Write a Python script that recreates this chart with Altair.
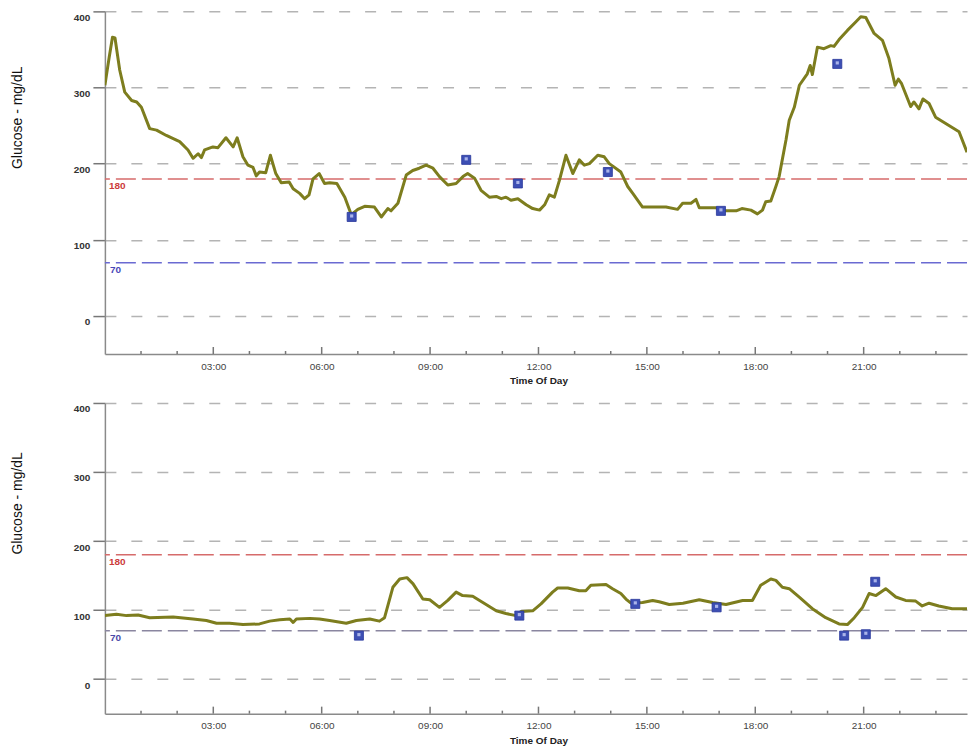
import altair as alt
import pandas as pd

# Upper day: glucose trace (hours after midnight, mg/dL)
top_hours = [0.00, 0.12, 0.21, 0.28, 0.41, 0.55, 0.74, 0.88, 1.01, 1.24, 1.43, 1.70, 2.07, 2.30,
             2.44, 2.58, 2.67, 2.76, 2.99, 3.13, 3.35, 3.55, 3.66, 3.82, 3.96, 4.10, 4.19, 4.28,
             4.45, 4.58, 4.73, 4.88, 5.10, 5.21, 5.39, 5.53, 5.65, 5.76, 5.93, 6.08, 6.22, 6.42,
             6.64, 6.82, 7.00, 7.19, 7.46, 7.65, 7.83, 7.92, 8.11, 8.34, 8.52, 8.70, 8.89, 9.08,
             9.26, 9.49, 9.72, 9.91, 10.04, 10.23, 10.41, 10.64, 10.83, 10.97, 11.10, 11.24,
             11.43, 11.66, 11.84, 12.03, 12.17, 12.30, 12.44, 12.58, 12.76, 12.95, 13.13, 13.27,
             13.41, 13.64, 13.82, 13.96, 14.28, 14.47, 14.61, 14.88, 15.07, 15.53, 15.85, 15.99,
             16.22, 16.36, 16.45, 16.91, 17.19, 17.47, 17.63, 17.88, 18.06, 18.20, 18.29, 18.43,
             18.57, 18.66, 18.85, 18.94, 19.08, 19.22, 19.44, 19.52, 19.58, 19.72, 19.90, 20.09,
             20.18, 20.32, 20.55, 20.78, 20.92, 21.06, 21.29, 21.52, 21.70, 21.87, 21.96, 22.05,
             22.30, 22.39, 22.53, 22.64, 22.81, 22.99, 23.36, 23.64, 23.86]
top_values = [303, 340, 366, 365, 323, 294, 283, 281, 274, 246, 244, 237, 229, 218,
              207, 213, 208, 218, 222, 221, 234, 222, 234, 209, 198, 195, 184, 189,
              188, 211, 187, 175, 176, 167, 161, 154, 159, 180, 187, 174, 175, 174,
              156, 133, 140, 144, 143, 130, 141, 138, 148, 185, 191, 194, 198, 194,
              183, 172, 174, 183, 187, 181, 165, 156, 157, 154, 156, 152,
              154, 146, 141, 139, 146, 159, 156, 178, 211, 187, 205, 198,
              200, 211, 209, 200, 189, 170, 161, 143, 143, 143, 140, 148,
              148, 153, 142, 142, 138, 138, 141, 139, 134, 139, 150, 151,
              170, 183, 231, 257, 274, 303, 318, 329, 317, 353, 351, 355,
              354, 363, 375, 386, 393, 392, 371, 362, 338, 303, 311, 305,
              275, 281, 272, 285, 279, 261, 250, 242, 215]

# Upper day: meter readings
top_meter_hours = [6.83, 10.00, 11.43, 13.92, 17.05, 20.27]
top_meter_values = [130, 205, 174, 189, 138, 331]

# Lower day: glucose trace
bottom_hours = [0.00, 0.32, 0.60, 0.92, 1.24, 1.89, 2.44, 2.81, 3.09, 3.45, 3.82, 4.28, 4.56,
                4.84, 5.12, 5.21, 5.30, 5.67, 5.94, 6.22, 6.68, 6.96, 7.33, 7.60, 7.74, 7.97,
                8.16, 8.36, 8.53, 8.80, 8.99, 9.26, 9.49, 9.72, 9.90, 10.18, 10.46, 10.83,
                11.10, 11.38, 11.52, 11.84, 12.07, 12.39, 12.53, 12.81, 13.13, 13.31, 13.45,
                13.87, 14.05, 14.28, 14.42, 14.56, 14.88, 15.16, 15.34, 15.62, 16.00, 16.45,
                16.82, 17.19, 17.65, 17.92, 18.15, 18.43, 18.57, 18.75, 18.94, 19.21, 19.58,
                19.95, 20.32, 20.55, 20.74, 20.97, 21.15, 21.34, 21.61, 21.89, 22.16, 22.44,
                22.62, 22.81, 23.08, 23.45, 23.86]
bottom_values = [92, 94, 92, 93, 89, 90, 87, 85, 81, 81, 79, 80, 84,
                 86, 87, 82, 87, 88, 87, 85, 81, 85, 87, 84, 89, 133,
                 145, 147, 138, 116, 115, 104, 114, 126, 121, 120, 111, 99,
                 95, 92, 98, 99, 109, 126, 132, 132, 128, 128, 136,
                 137, 131, 124, 116, 110, 111, 114, 112, 108, 110, 115,
                 111, 108, 114, 114, 136, 145, 143, 133, 131, 119, 102,
                 89, 80, 79, 89, 104, 124, 121, 131, 119, 114, 113,
                 106, 110, 106, 102, 102]

# Lower day: meter readings
bottom_meter_hours = [7.03, 11.47, 14.68, 16.93, 20.46, 21.06, 21.32]
bottom_meter_values = [63, 92, 109, 104, 63, 65, 141]

y_ticks = [0, 100, 200, 300, 400]
x_label_hours = [3, 6, 9, 12, 15, 18, 21]
minor_hours = [1, 2, 4, 5, 7, 8, 10, 11, 13, 14, 16, 17, 19, 20, 22, 23]
high_limit = 180
low_limit = 70

FONT = "Liberation Sans"
WIDTH = 863
X_DOMAIN = [0, 23.86]
Y_DOMAIN = [-50, 400]
TRACE_COLOR = "#7d7d1e"
METER_COLOR = "#3d4fb4"


def day_panel(hours, values, m_hours, m_values, height, title_y, low_color, low_text_color):
    trace = pd.DataFrame({"hour": hours, "glucose": values})
    meters = pd.DataFrame({"hour": m_hours, "glucose": m_values})
    limits = pd.DataFrame({"level": [high_limit, low_limit],
                           "label": [str(high_limit), str(low_limit)]})
    majors = pd.DataFrame({"hour": x_label_hours})
    minors = pd.DataFrame({"hour": minor_hours})

    x_scale = alt.Scale(domain=X_DOMAIN, nice=False, zero=False)
    y_scale = alt.Scale(domain=Y_DOMAIN, nice=False, zero=False)

    x_axis = alt.Axis(
        values=x_label_hours,
        labelExpr="(datum.value < 10 ? '0' : '') + datum.value + ':00'",
        ticks=False, grid=False,
        domainColor="#8a8a8a", domainWidth=1.5,
        labelFont=FONT, labelFontSize=10, labelColor="#444444", labelPadding=7,
        title="Time Of Day", titleFont=FONT, titleFontSize=10, titleFontWeight="bold",
        titleColor="#222222", titlePadding=5, titleX=434,
    )
    y_axis = alt.Axis(
        values=y_ticks, tickSize=12, tickColor="#777777", tickWidth=1.5,
        domainColor="#8a8a8a", domainWidth=1.5,
        grid=True, gridColor="#b4b4b4", gridDash=[11, 15], gridWidth=1.5,
        labelFont=FONT, labelFontSize=10, labelFontWeight="bold", labelColor="#333333",
        labelBaseline="top", labelPadding=3, labelOffset=1,
        title="Glucose - mg/dL", titleFont=FONT, titleFontSize=14, titleFontWeight="normal",
        titleColor="#111111", titleX=-80, titleY=title_y,
    )

    base_x = alt.X("hour:Q", scale=x_scale, axis=x_axis)

    line = alt.Chart(trace).mark_line(
        color=TRACE_COLOR, strokeWidth=3, strokeJoin="round", clip=True
    ).encode(x=base_x, y=alt.Y("glucose:Q", scale=y_scale, axis=y_axis))

    high_rule = alt.Chart(limits.iloc[[0]]).mark_rule(
        color="#d66b6b", strokeWidth=1.5, strokeDash=[20, 6]
    ).encode(y=alt.Y("level:Q", scale=y_scale))
    low_rule = alt.Chart(limits.iloc[[1]]).mark_rule(
        color=low_color, strokeWidth=1.5, strokeDash=[20, 6]
    ).encode(y=alt.Y("level:Q", scale=y_scale))

    high_text = alt.Chart(limits.iloc[[0]]).mark_text(
        align="left", baseline="top", dx=0, dy=2, font=FONT, fontSize=10,
        fontWeight="bold", color="#cc3b3b"
    ).encode(y=alt.Y("level:Q", scale=y_scale), x=alt.value(4), text="label:N")
    low_text = alt.Chart(limits.iloc[[1]]).mark_text(
        align="left", baseline="top", dx=0, dy=2, font=FONT, fontSize=10,
        fontWeight="bold", color=low_text_color
    ).encode(y=alt.Y("level:Q", scale=y_scale), x=alt.value(5), text="label:N")

    meter_box = alt.Chart(meters).mark_square(
        size=82, filled=True, color=METER_COLOR, stroke="#27369a", strokeWidth=0.8, opacity=1
    ).encode(x=alt.X("hour:Q", scale=x_scale), y=alt.Y("glucose:Q", scale=y_scale))
    meter_face = alt.Chart(meters).mark_square(
        size=10, filled=True, color="#aab4ea", opacity=1
    ).encode(x=alt.X("hour:Q", scale=x_scale), y=alt.Y("glucose:Q", scale=y_scale),
             yOffset=alt.value(-1))

    major_ticks = alt.Chart(majors).mark_rule(color="#777777", strokeWidth=1.5).encode(
        x=alt.X("hour:Q", scale=x_scale), y=alt.value(height - 7), y2=alt.value(height)
    )
    minor_ticks = alt.Chart(minors).mark_rule(color="#777777", strokeWidth=1.5).encode(
        x=alt.X("hour:Q", scale=x_scale), y=alt.value(height - 3), y2=alt.value(height)
    )

    return alt.layer(
        high_rule, low_rule, high_text, low_text, line, meter_box, meter_face,
        major_ticks, minor_ticks
    ).properties(width=WIDTH, height=height)


upper = day_panel(top_hours, top_values, top_meter_hours, top_meter_values,
                  343, 106, "#6a6ad2", "#4848b8")
lower = day_panel(bottom_hours, bottom_values, bottom_meter_hours, bottom_meter_values,
                  311, 100, "#8a86a0", "#4a4aa8")

chart = alt.vconcat(upper, lower, spacing=16).properties(
    padding={"left": 10, "top": 10, "right": 0, "bottom": 0},
    background="white",
).configure_view(stroke=None)

chart.save("out.html", embed_options={"renderer": "svg", "actions": False})
